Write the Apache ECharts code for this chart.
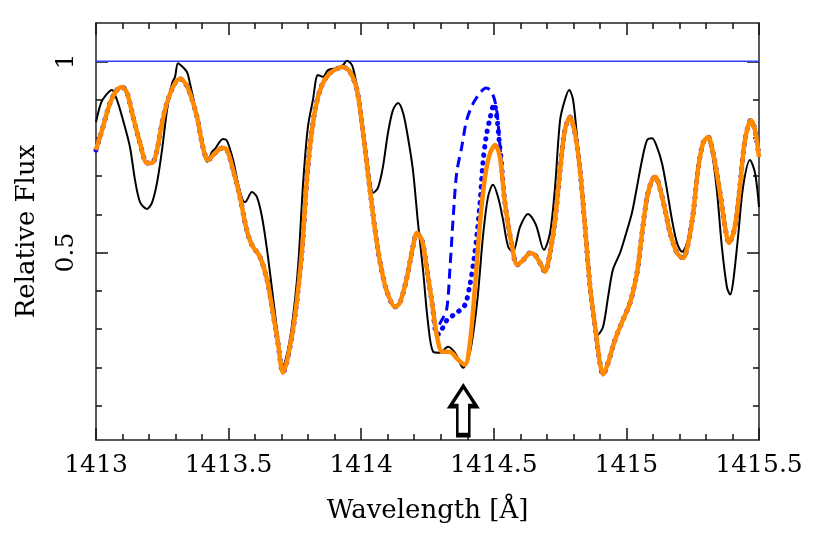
<!DOCTYPE html>
<html>
<head>
<meta charset="utf-8">
<script src="https://cdn.jsdelivr.net/npm/echarts@6/dist/echarts.min.js"></script>
<style>html,body{margin:0;padding:0;background:#fff;}#chart{width:830px;height:546px;}</style>
</head>
<body>
<div id="chart"></div>
<script>
// Observed spectrum (black)
const blackWl = [1413.000,1413.019,1413.038,1413.060,1413.079,1413.102,1413.128,1413.147,1413.166,1413.192,
1413.211,1413.230,1413.249,1413.268,1413.287,1413.298,1413.309,1413.324,1413.343,1413.354,
1413.381,1413.403,1413.419,1413.437,1413.449,1413.479,1413.494,1413.517,1413.535,1413.554,
1413.562,1413.588,1413.607,1413.626,1413.645,1413.664,1413.683,1413.705,1413.724,1413.743,
1413.762,1413.781,1413.799,1413.818,1413.837,1413.856,1413.875,1413.909,1413.931,1413.946,
1413.965,1413.977,1413.995,1414.014,1414.033,1414.045,1414.063,1414.082,1414.101,1414.120,
1414.139,1414.158,1414.176,1414.195,1414.214,1414.233,1414.252,1414.271,1414.297,1414.327,
1414.354,1414.384,1414.410,1414.437,1414.459,1414.478,1414.497,1414.516,1414.535,1414.554,
1414.572,1414.599,1414.629,1414.659,1414.689,1414.712,1414.731,1414.750,1414.768,1414.784,
1414.799,1414.817,1414.836,1414.855,1414.874,1414.893,1414.912,1414.931,1414.949,1414.976,
1414.995,1415.021,1415.040,1415.059,1415.078,1415.097,1415.115,1415.134,1415.153,1415.172,
1415.191,1415.210,1415.229,1415.247,1415.266,1415.285,1415.304,1415.323,1415.342,1415.360,
1415.379,1415.391,1415.402,1415.421,1415.440,1415.466,1415.485,1415.500];
const blackFlux = [0.841,0.891,0.912,0.925,0.899,0.846,0.776,0.690,0.632,0.614,
0.630,0.682,0.768,0.873,0.943,0.959,0.995,0.987,0.972,0.943,
0.854,0.768,0.737,0.763,0.771,0.797,0.792,0.742,0.682,0.635,
0.632,0.658,0.645,0.593,0.507,0.403,0.298,0.202,0.246,0.332,
0.463,0.682,0.828,0.899,0.964,0.959,0.977,0.982,0.990,1.001,
0.990,0.959,0.891,0.786,0.690,0.656,0.669,0.724,0.813,0.873,
0.891,0.865,0.802,0.716,0.578,0.455,0.316,0.241,0.238,0.254,
0.238,0.199,0.238,0.369,0.541,0.645,0.677,0.645,0.585,0.515,
0.502,0.567,0.601,0.572,0.507,0.551,0.672,0.846,0.899,0.925,
0.899,0.776,0.619,0.481,0.358,0.285,0.306,0.384,0.455,0.499,
0.541,0.604,0.672,0.742,0.794,0.799,0.776,0.734,0.664,0.585,
0.525,0.502,0.525,0.593,0.698,0.776,0.799,0.760,0.656,0.515,
0.410,0.390,0.421,0.541,0.672,0.742,0.708,0.619];

// Model spectrum (orange)
const modelWl = [1413.000,1413.026,1413.053,1413.079,1413.098,1413.117,1413.140,1413.166,1413.192,1413.211,
1413.230,1413.249,1413.271,1413.298,1413.317,1413.336,1413.354,1413.381,1413.403,1413.422,
1413.449,1413.475,1413.494,1413.517,1413.543,1413.562,1413.577,1413.592,1413.618,1413.645,
1413.667,1413.686,1413.705,1413.724,1413.750,1413.777,1413.799,1413.826,1413.852,1413.882,
1413.913,1413.931,1413.958,1413.984,1414.007,1414.033,1414.059,1414.082,1414.101,1414.127,
1414.146,1414.173,1414.195,1414.210,1414.229,1414.248,1414.267,1414.286,1414.305,1414.324,
1414.342,1414.365,1414.391,1414.410,1414.429,1414.448,1414.467,1414.486,1414.505,1414.523,
1414.542,1414.569,1414.588,1414.612,1414.637,1414.655,1414.674,1414.693,1414.712,1414.731,
1414.750,1414.768,1414.787,1414.806,1414.825,1414.844,1414.863,1414.882,1414.900,1414.912,
1414.931,1414.957,1414.987,1415.014,1415.040,1415.059,1415.078,1415.097,1415.109,1415.128,
1415.146,1415.165,1415.191,1415.214,1415.233,1415.252,1415.270,1415.289,1415.308,1415.327,
1415.353,1415.372,1415.387,1415.409,1415.428,1415.447,1415.470,1415.485,1415.500];
const modelFlux = [0.768,0.828,0.891,0.925,0.933,0.917,0.854,0.786,0.734,0.734,
0.768,0.839,0.899,0.943,0.954,0.943,0.917,0.854,0.776,0.742,
0.760,0.773,0.768,0.716,0.645,0.578,0.538,0.515,0.489,0.429,
0.343,0.264,0.186,0.228,0.332,0.507,0.724,0.873,0.938,0.969,
0.982,0.985,0.972,0.925,0.813,0.664,0.525,0.437,0.390,0.358,
0.369,0.437,0.515,0.551,0.533,0.455,0.369,0.280,0.241,0.241,
0.238,0.220,0.207,0.264,0.410,0.578,0.698,0.760,0.781,0.750,
0.630,0.515,0.468,0.481,0.499,0.494,0.473,0.450,0.499,0.585,
0.716,0.820,0.854,0.813,0.716,0.567,0.410,0.306,0.212,0.181,
0.212,0.272,0.324,0.369,0.447,0.551,0.645,0.690,0.698,0.664,
0.611,0.551,0.499,0.486,0.525,0.604,0.716,0.786,0.802,0.760,
0.656,0.567,0.525,0.567,0.672,0.794,0.846,0.820,0.750];

// Alternative models (blue) where they differ from the orange model
const dottedWl = [1414.286,1414.297,1414.324,1414.361,1414.391,1414.410,1414.425,1414.437,1414.448,1414.459,1414.471,1414.486,1414.501,1414.512,1414.520,1414.527];
const dottedFlux = [0.285,0.290,0.324,0.343,0.363,0.416,0.481,0.551,0.630,0.734,0.802,0.852,0.888,0.852,0.794,0.747];
const dashedWl = [1414.282,1414.301,1414.322,1414.335,1414.347,1414.360,1414.379,1414.398,1414.423,1414.448,1414.471,1414.486,1414.501,1414.512,1414.520,1414.527];
const dashedFlux = [0.298,0.320,0.350,0.463,0.593,0.708,0.776,0.847,0.891,0.917,0.930,0.925,0.904,0.867,0.807,0.747];

// Continuum
const contWl = [1413, 1415.5];
const contFlux = [1, 1];

// Arrow marker
const arrowWl = 1414.385;
const arrowFlux = 0.087;

// Ticks
const yMajorTicks = [0.5, 1];
const yMinorTicks = [0.1, 0.2, 0.3, 0.4, 0.6, 0.7, 0.8, 0.9];

const zip = (a, b) => a.map((x, i) => [x, b[i]]);
function splice(devWl, devFlux) {
  const lo = devWl[0], hi = devWl[devWl.length - 1];
  const before = zip(modelWl, modelFlux).filter(p => p[0] < lo);
  const after = zip(modelWl, modelFlux).filter(p => p[0] > hi);
  return before.concat(zip(devWl, devFlux), after);
}

const FONT = 'DejaVu Serif';
const labelStyle = {fontFamily: FONT, fontSize: 25, color: '#000'};
const nameStyle = {fontFamily: FONT, fontSize: 26, color: '#000'};
const frameLine = {show: true, lineStyle: {color: '#222', width: 1.5}};
const tickLine = {color: '#111', width: 1.5};

const chart = echarts.init(document.getElementById('chart'), null, {renderer: 'canvas'});
chart.setOption({
  animation: false,
  backgroundColor: '#fff',
  grid: {left: 96, right: 71, top: 23, bottom: 106, containLabel: false},
  xAxis: [
    {type: 'value', position: 'bottom', min: 1413, max: 1415.5, interval: 0.5,
     axisLine: frameLine,
     axisTick: {show: true, inside: true, length: 12, lineStyle: tickLine},
     minorTick: {show: true, splitNumber: 5, length: 6, lineStyle: tickLine},
     axisLabel: Object.assign({margin: 13, formatter: v => String(v), showMinLabel: true, showMaxLabel: true}, labelStyle),
     splitLine: {show: false},
     name: 'Wavelength [Å]', nameLocation: 'middle', nameGap: 58,
     nameTextStyle: nameStyle},
    {type: 'value', position: 'top', min: 1413, max: 1415.5, interval: 0.5,
     axisLine: frameLine,
     axisTick: {show: true, inside: true, length: 12, lineStyle: tickLine},
     minorTick: {show: true, splitNumber: 5, length: 6, lineStyle: tickLine},
     axisLabel: {show: false}, splitLine: {show: false}}
  ],
  yAxis: [
    {type: 'value', position: 'left', min: 0.01, max: 1.1,
     axisLine: frameLine,
     axisTick: {show: true, inside: true, length: 12, lineStyle: tickLine, customValues: yMajorTicks},
     axisLabel: Object.assign({customValues: yMajorTicks, rotate: 90, margin: 17, formatter: v => String(v)}, labelStyle),
     splitLine: {show: false},
     name: 'Relative Flux', nameLocation: 'middle', nameGap: 56,
     nameTextStyle: nameStyle},
    {type: 'value', position: 'left', min: 0.01, max: 1.1,
     axisLine: {show: false},
     axisTick: {show: true, inside: true, length: 6, lineStyle: tickLine, customValues: yMinorTicks},
     axisLabel: {show: false}, splitLine: {show: false}},
    {type: 'value', position: 'right', min: 0.01, max: 1.1,
     axisLine: frameLine,
     axisTick: {show: true, inside: true, length: 12, lineStyle: tickLine, customValues: yMajorTicks},
     axisLabel: {show: false}, splitLine: {show: false}},
    {type: 'value', position: 'right', min: 0.01, max: 1.1,
     axisLine: {show: false},
     axisTick: {show: true, inside: true, length: 6, lineStyle: tickLine, customValues: yMinorTicks},
     axisLabel: {show: false}, splitLine: {show: false}}
  ],
  series: [
    {type: 'line', name: 'continuum', data: zip(contWl, contFlux), symbol: 'none', silent: true,
     lineStyle: {color: '#3344ff', width: 1.3}, z: 1},
    {type: 'line', name: 'observed', data: zip(blackWl, blackFlux), symbol: 'none', smooth: 0.3,
     lineStyle: {color: '#000', width: 2}, z: 2,
     markPoint: {
       symbol: 'path://M13,0 L26,20 L19,20 L19,49 L7,49 L7,20 L0,20 Z',
       symbolSize: [26, 49],
       itemStyle: {color: '#fff', borderColor: '#000', borderWidth: 3.5},
       label: {show: false},
       data: [{coord: [arrowWl, arrowFlux]}]
     }},
    {type: 'line', name: 'dashed model', data: splice(dashedWl, dashedFlux), symbol: 'none', smooth: 0.3,
     lineStyle: {color: '#0000ff', width: 3, type: [10, 6]}, z: 3},
    {type: 'line', name: 'dotted model', data: splice(dottedWl, dottedFlux), symbol: 'none', smooth: 0.3,
     lineStyle: {color: '#0000ff', width: 5, type: [0.5, 7.5], cap: 'round'}, z: 4},
    {type: 'line', name: 'model', data: zip(modelWl, modelFlux), symbol: 'none', smooth: 0.3,
     lineStyle: {color: '#ff8a00', width: 4.5}, z: 5}
  ]
});
</script>
</body>
</html>
